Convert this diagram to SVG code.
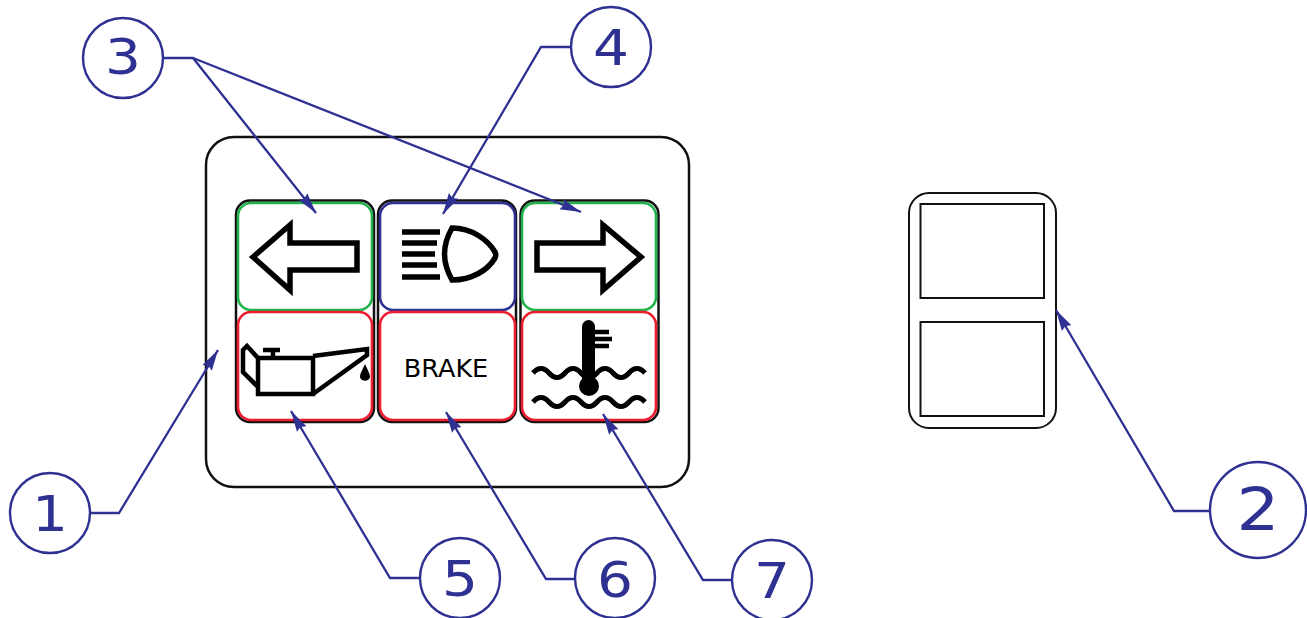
<svg xmlns="http://www.w3.org/2000/svg" width="1307" height="618" viewBox="0 0 1307 618">
<style>
.o{fill:#fff;stroke:#111;stroke-width:2.5}
.g{fill:#fff;stroke:#22b24c;stroke-width:2.6}
.b{fill:#fff;stroke:#2e3192;stroke-width:2.6}
.r{fill:#fff;stroke:#ed1c2e;stroke-width:2.6}
.i{fill:none;stroke:#000;stroke-width:5.500;stroke-linejoin:miter}
.c{fill:#fff;stroke:#2e3192;stroke-width:2.400}
.n{font-family:"DejaVu Sans",sans-serif;font-size:49px;fill:#2e3192;text-anchor:middle}
.l{fill:none;stroke:#2e3192;stroke-width:2.300}
.t{font-family:"DejaVu Sans",sans-serif;font-size:25.500px;fill:#000;text-anchor:middle}
</style>
<defs>
<marker id="a" markerUnits="userSpaceOnUse" markerWidth="24" markerHeight="14" refX="21" refY="7" orient="auto"><path d="M0 1.500L21 7L0 12.500L2.500 7z" fill="#2e3192"/></marker>
</defs>
<g id="panel"><rect class="o" x="206" y="137" width="483" height="350" rx="28"/></g>
<g id="side-panel">
<rect class="o" x="909" y="193" width="147" height="235" rx="20" style="stroke-width:2"/>
<rect fill="#fff" stroke="#111" stroke-width="2" x="920.500" y="204" width="123.500" height="94"/>
<rect fill="#fff" stroke="#111" stroke-width="2" x="920.500" y="322" width="123.500" height="94"/>
</g>
<g id="frames">
<rect class="o" x="236" y="200.500" width="138" height="221.500" rx="14"/>
<rect class="o" x="378" y="200.500" width="138" height="221.500" rx="14"/>
<rect class="o" x="520.500" y="200.500" width="138" height="221.500" rx="14"/>
</g>
<g id="left-arrow">
<rect class="g" x="238" y="203" width="134" height="107" rx="13"/>
<path class="i" d="M253 257L290 225V243H357V270H290V290Z"/>
</g>
<g id="headlight">
<rect class="b" x="380" y="203" width="135" height="107" rx="13"/>
<path d="M402 232H440M402 243H437M402 254H435M402 265H437M402 277H440" fill="none" stroke="#000" stroke-width="5.500"/>
<path class="i" d="M452 228C472 228 488 240 495 252Q496.500 255 495 258C488 270 472 280 452 280C442 262 442 246 452 228Z"/>
</g>
<g id="right-arrow">
<rect class="g" x="522" y="203" width="134" height="107" rx="13"/>
<path class="i" d="M537 243H603V225L641 257L603 290V270H537Z"/>
</g>
<g id="oil">
<rect class="r" x="238" y="312" width="134" height="108" rx="13"/>
<path class="i" style="stroke-width:4.500" d="M258 358H313V394H258ZM313 356L367 349V355L313 394M258 358L247 346L243 350V372L258 387"/>
<path d="M263 350H280M273 350V358" fill="none" stroke="#000" stroke-width="4.500"/>
<path d="M365 364C367 369 370 373 370 377C369 382 361 382 360 377C360 373 363 369 365 364Z" fill="#000"/>
</g>
<g id="brake">
<rect class="r" x="380" y="312" width="135" height="108" rx="13"/>
<text class="t" x="446" y="377">BRAKE</text>
</g>
<g id="temperature">
<rect class="r" x="522" y="312" width="134" height="108" rx="13"/>
<path d="M533 373q8 -9 16 0t16 0t16 0t16 0t16 0t16 0t16 0M533 402q8 -9 16 0t16 0t16 0t16 0t16 0t16 0t16 0" fill="none" stroke="#000" stroke-width="5"/>
<rect x="582" y="320" width="13" height="70" rx="6.500" fill="#000"/>
<circle cx="589" cy="386" r="10" fill="#000"/>
<path d="M594 332H609M594 339H612M594 346H609" fill="none" stroke="#000" stroke-width="4.500"/>
</g>
<g id="connectors">
<path class="l" d="M162 58H193L316 213" marker-end="url(#a)"/>
<path class="l" d="M193 58L581 212" marker-end="url(#a)"/>
<path class="l" d="M571 47H541L443 214" marker-end="url(#a)"/>
<path class="l" d="M90 513H119L218 350" marker-end="url(#a)"/>
<path class="l" d="M1209 511H1174L1056 310" marker-end="url(#a)"/>
<path class="l" d="M420 578H390L291 411" marker-end="url(#a)"/>
<path class="l" d="M574 579H546L446 412" marker-end="url(#a)"/>
<path class="l" d="M732 580H703L603 414" marker-end="url(#a)"/>
</g>
<g id="n3"><circle class="c" cx="123" cy="58" r="40"/><text class="n" x="123" y="74" textLength="36" lengthAdjust="spacingAndGlyphs">3</text></g>
<g id="n4"><circle class="c" cx="611" cy="47" r="40"/><text class="n" x="611" y="65" textLength="36" lengthAdjust="spacingAndGlyphs">4</text></g>
<g id="n1"><circle class="c" cx="50" cy="513" r="40"/><text class="n" x="50" y="531" textLength="36" lengthAdjust="spacingAndGlyphs">1</text></g>
<g id="n2"><circle class="c" cx="1258" cy="510" r="48"/><text class="n" x="1258" y="530" style="font-size:59px" textLength="43" lengthAdjust="spacingAndGlyphs">2</text></g>
<g id="n5"><circle class="c" cx="460" cy="578" r="40"/><text class="n" x="460" y="596" textLength="36" lengthAdjust="spacingAndGlyphs">5</text></g>
<g id="n6"><circle class="c" cx="615" cy="578" r="40"/><text class="n" x="615" y="597" textLength="36" lengthAdjust="spacingAndGlyphs">6</text></g>
<g id="n7"><circle class="c" cx="772" cy="580" r="40"/><text class="n" x="772" y="598" textLength="36" lengthAdjust="spacingAndGlyphs">7</text></g>
</svg>
